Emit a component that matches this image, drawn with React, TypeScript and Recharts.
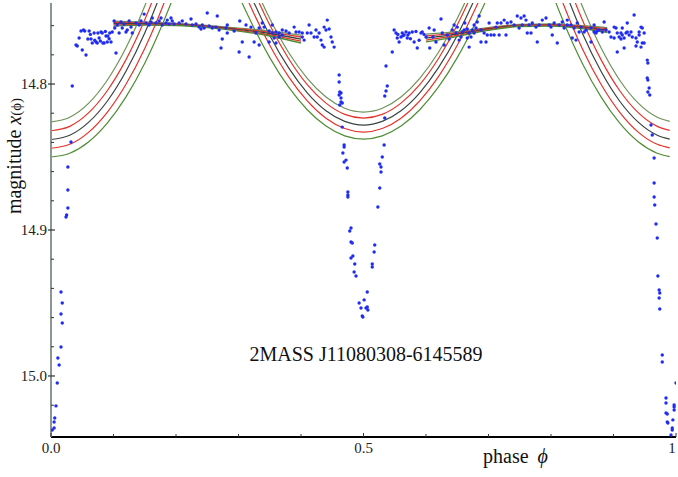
import React from "react";
import { ComposedChart, Line, Scatter, XAxis, YAxis } from "recharts";

// model curves (eclipse branches)
const curvePhase = [0, 0.03, 0.06, 0.09, 0.12, 0.15, 0.18, 0.21, 0.25, 0.29, 0.32, 0.35, 0.38, 0.41, 0.44, 0.47, 0.5, 0.53, 0.56, 0.59, 0.62, 0.65, 0.68, 0.71, 0.75, 0.79, 0.82, 0.85, 0.88, 0.91, 0.94, 0.97, 0.99];
const curveGreenTop = [14.826, 14.8228, 14.8133, 14.7974, 14.7752, 14.7466, 14.7116, 14.6703, 14.6, 14.6935, 14.7269, 14.7551, 14.7782, 14.7961, 14.8089, 14.8166, 14.8192, 14.8166, 14.8089, 14.7961, 14.7782, 14.7551, 14.7269, 14.6935, 14.6, 14.6703, 14.7116, 14.7466, 14.7752, 14.7974, 14.8133, 14.8228, 14.8256];
const curveRedTop = [14.832, 14.829, 14.8198, 14.8046, 14.7833, 14.756, 14.7225, 14.6829, 14.62, 14.6985, 14.7316, 14.7596, 14.7825, 14.8004, 14.8131, 14.8208, 14.8233, 14.8208, 14.8131, 14.8004, 14.7825, 14.7596, 14.7316, 14.6985, 14.62, 14.6829, 14.7225, 14.756, 14.7833, 14.8046, 14.8198, 14.829, 14.8317];
const curveDark = [14.838, 14.8351, 14.8263, 14.8118, 14.7913, 14.7651, 14.733, 14.6951, 14.635, 14.7077, 14.7396, 14.7667, 14.7888, 14.806, 14.8183, 14.8256, 14.8281, 14.8256, 14.8183, 14.806, 14.7888, 14.7667, 14.7396, 14.7077, 14.635, 14.6951, 14.733, 14.7651, 14.7913, 14.8118, 14.8263, 14.8351, 14.8377];
const curveRedLow = [14.844, 14.8413, 14.8331, 14.8194, 14.8002, 14.7756, 14.7455, 14.7099, 14.65, 14.7165, 14.7474, 14.7735, 14.7949, 14.8115, 14.8234, 14.8305, 14.8329, 14.8305, 14.8234, 14.8115, 14.7949, 14.7735, 14.7474, 14.7165, 14.65, 14.7099, 14.7455, 14.7756, 14.8002, 14.8194, 14.8331, 14.8413, 14.8437];
const curveGreenLow = [14.85, 14.8474, 14.8397, 14.8268, 14.8088, 14.7857, 14.7573, 14.7239, 14.67, 14.7283, 14.7573, 14.7819, 14.802, 14.8176, 14.8288, 14.8355, 14.8377, 14.8355, 14.8288, 14.8176, 14.802, 14.7819, 14.7573, 14.7283, 14.67, 14.7239, 14.7573, 14.7857, 14.8088, 14.8268, 14.8397, 14.8474, 14.8497];

// out-of-eclipse model band
const bandAPhase = [0.1, 0.15, 0.2, 0.25, 0.3, 0.35, 0.4];
const bandAGreenTop = [14.7569, 14.7576, 14.7585, 14.7599, 14.7617, 14.7637, 14.7665];
const bandARedTop = [14.7577, 14.7581, 14.7589, 14.7603, 14.7622, 14.7645, 14.7678];
const bandADark = [14.7586, 14.7586, 14.7592, 14.7606, 14.7627, 14.7654, 14.7692];
const bandARedLow = [14.7595, 14.7591, 14.7595, 14.7609, 14.7632, 14.7663, 14.7706];
const bandAGreenLow = [14.7603, 14.7596, 14.7599, 14.7613, 14.7637, 14.7671, 14.7719];

const bandBPhase = [0.6, 0.65, 0.7, 0.75, 0.8, 0.85, 0.89];
const bandBGreenTop = [14.7658, 14.7641, 14.7613, 14.7592, 14.7589, 14.76, 14.7613];
const bandBRedTop = [14.7671, 14.7649, 14.7618, 14.7596, 14.7593, 14.7605, 14.7621];
const bandBDark = [14.7685, 14.7658, 14.7623, 14.7599, 14.7596, 14.761, 14.763];
const bandBRedLow = [14.7699, 14.7667, 14.7628, 14.7602, 14.7599, 14.7615, 14.7639];
const bandBGreenLow = [14.7712, 14.7675, 14.7633, 14.7606, 14.7603, 14.762, 14.7647];

// observations [phase, magnitude]
const primaryEgress = [
  [0.002, 15.037], [0.005, 15.0356], [0.005, 15.0315], [0.006, 15.0288], [0.008, 15.0205], [0.01, 15.0048],
  [0.011, 14.9877], [0.013, 14.9925], [0.016, 14.9801], [0.018, 14.9637], [0.016, 14.9575], [0.018, 14.95],
  [0.016, 14.9425], [0.024, 14.8911], [0.025, 14.8897], [0.027, 14.8849], [0.027, 14.8726], [0.027, 14.8568],
  [0.032, 14.8397], [0.034, 14.8014],
];
const lowClusterA = [
  [0.04, 14.7733], [0.042, 14.774], [0.045, 14.7685], [0.048, 14.7637], [0.05, 14.7767], [0.052, 14.763],
  [0.054, 14.7637], [0.056, 14.7801], [0.059, 14.7692], [0.061, 14.7637], [0.063, 14.766], [0.064, 14.7692],
  [0.066, 14.7719], [0.069, 14.7651], [0.07, 14.77], [0.072, 14.7712], [0.074, 14.7719], [0.075, 14.7651],
  [0.077, 14.7685], [0.079, 14.7705], [0.08, 14.7644], [0.082, 14.7651], [0.083, 14.7719], [0.085, 14.7719],
  [0.087, 14.764], [0.088, 14.7671], [0.09, 14.7712], [0.091, 14.7671], [0.093, 14.769], [0.094, 14.7651],
  [0.096, 14.7712], [0.098, 14.7644],
];
const plateauA = [
  [0.101, 14.7568], [0.102, 14.7616], [0.104, 14.7788], [0.106, 14.7596], [0.109, 14.7651], [0.112, 14.7575],
  [0.114, 14.7616], [0.117, 14.7589], [0.12, 14.7644], [0.122, 14.763], [0.125, 14.7568], [0.128, 14.761],
  [0.13, 14.7651], [0.136, 14.7582], [0.141, 14.7596], [0.144, 14.7568], [0.149, 14.7521], [0.152, 14.7582],
  [0.157, 14.7596], [0.16, 14.7575], [0.162, 14.7548], [0.168, 14.7582], [0.173, 14.7568], [0.176, 14.7548],
  [0.178, 14.7596], [0.184, 14.7582], [0.186, 14.7562], [0.189, 14.7589], [0.192, 14.7548], [0.194, 14.7568],
  [0.197, 14.7589], [0.205, 14.7582], [0.21, 14.7568], [0.216, 14.7589], [0.224, 14.7555], [0.226, 14.7596],
  [0.232, 14.7589], [0.237, 14.761], [0.24, 14.7623], [0.242, 14.7596], [0.245, 14.7616], [0.25, 14.7514],
  [0.253, 14.7603], [0.258, 14.7616], [0.264, 14.761], [0.266, 14.7534], [0.269, 14.763], [0.272, 14.7753],
  [0.274, 14.7692], [0.28, 14.7616], [0.282, 14.7596], [0.282, 14.7651], [0.293, 14.7637], [0.301, 14.7781],
  [0.302, 14.7568], [0.306, 14.7712], [0.312, 14.7596], [0.317, 14.7815], [0.32, 14.761], [0.325, 14.7712],
  [0.328, 14.7651], [0.333, 14.7616], [0.333, 14.7733], [0.338, 14.7582], [0.341, 14.761], [0.349, 14.7637],
  [0.349, 14.7712], [0.354, 14.7596], [0.354, 14.7651], [0.357, 14.7685], [0.36, 14.7719], [0.36, 14.7644],
  [0.365, 14.7651], [0.365, 14.7678], [0.37, 14.763], [0.37, 14.7664], [0.376, 14.7637], [0.381, 14.7651],
  [0.389, 14.761], [0.392, 14.7644], [0.397, 14.7644], [0.402, 14.7651], [0.402, 14.7678], [0.405, 14.7699],
  [0.41, 14.7651], [0.413, 14.7596], [0.416, 14.7651], [0.421, 14.7678], [0.424, 14.763], [0.426, 14.7678],
  [0.429, 14.7651], [0.432, 14.7699], [0.434, 14.7733], [0.437, 14.761], [0.437, 14.7747], [0.44, 14.763],
  [0.442, 14.7562], [0.445, 14.7623], [0.448, 14.7678], [0.45, 14.7712], [0.453, 14.7747],
];
const secondaryIngress = [
  [0.461, 14.7938], [0.461, 14.7986], [0.462, 14.8055], [0.464, 14.8062], [0.461, 14.8075], [0.464, 14.8096],
  [0.464, 14.8123], [0.466, 14.813], [0.462, 14.8144], [0.466, 14.8295], [0.469, 14.8418], [0.469, 14.8432],
  [0.467, 14.8473], [0.472, 14.8521], [0.469, 14.8534], [0.474, 14.8575], [0.475, 14.874], [0.475, 14.876],
  [0.475, 14.8774], [0.48, 14.8986], [0.478, 14.9007], [0.48, 14.9082], [0.482, 14.9089], [0.483, 14.9178],
  [0.48, 14.9192], [0.486, 14.9233], [0.485, 14.9288], [0.488, 14.9315], [0.506, 14.9425], [0.501, 14.9479],
  [0.493, 14.95], [0.496, 14.9534], [0.504, 14.9534], [0.506, 14.9527], [0.507, 14.9548], [0.498, 14.9589],
  [0.499, 14.9596],
];
const secondaryEgress = [
  [0.536, 14.7877], [0.538, 14.8014], [0.536, 14.8048], [0.534, 14.8082], [0.534, 14.8233], [0.533, 14.8418],
  [0.53, 14.85], [0.526, 14.8548], [0.528, 14.8568], [0.528, 14.8603], [0.526, 14.8712], [0.523, 14.8842],
  [0.518, 14.9103], [0.517, 14.9151], [0.514, 14.9233], [0.514, 14.9253],
];
const lowClusterB = [
  [0.546, 14.7781], [0.549, 14.763], [0.552, 14.7651], [0.554, 14.7685], [0.555, 14.766], [0.557, 14.7712],
  [0.56, 14.7678], [0.562, 14.7651], [0.563, 14.767], [0.565, 14.7664], [0.568, 14.7644], [0.57, 14.7685],
  [0.571, 14.7665], [0.573, 14.7651], [0.575, 14.769], [0.578, 14.7644], [0.581, 14.7712], [0.584, 14.764],
  [0.586, 14.7753], [0.589, 14.77], [0.592, 14.7651], [0.594, 14.7644], [0.597, 14.766], [0.6, 14.7678],
  [0.605, 14.7616], [0.606, 14.7753], [0.611, 14.7678], [0.613, 14.763], [0.616, 14.7712], [0.624, 14.7555],
  [0.626, 14.7651], [0.629, 14.7733], [0.634, 14.7664], [0.637, 14.7692],
];
const plateauB = [
  [0.642, 14.763], [0.645, 14.7596], [0.648, 14.7651], [0.65, 14.761], [0.653, 14.7699], [0.656, 14.7678],
  [0.658, 14.7644], [0.661, 14.763], [0.662, 14.7582], [0.666, 14.7623], [0.666, 14.7685], [0.669, 14.7651],
  [0.669, 14.7747], [0.672, 14.7678], [0.674, 14.763], [0.677, 14.7596], [0.677, 14.7651], [0.68, 14.7616],
  [0.682, 14.7575], [0.685, 14.7534], [0.688, 14.763], [0.688, 14.7712], [0.693, 14.7651], [0.696, 14.7712],
  [0.698, 14.7664], [0.701, 14.7582], [0.704, 14.7664], [0.709, 14.7664], [0.712, 14.761], [0.714, 14.7582],
  [0.717, 14.7664], [0.72, 14.7582], [0.725, 14.7562], [0.728, 14.7664], [0.73, 14.7582], [0.736, 14.7575],
  [0.741, 14.7596], [0.746, 14.7534], [0.749, 14.7616], [0.752, 14.7548], [0.754, 14.7596], [0.757, 14.7534],
  [0.76, 14.7562], [0.762, 14.7651], [0.765, 14.7596], [0.768, 14.7651], [0.77, 14.7582], [0.776, 14.761],
  [0.778, 14.7712], [0.781, 14.7596], [0.786, 14.7562], [0.792, 14.7548], [0.797, 14.7596], [0.8, 14.761],
  [0.802, 14.7664], [0.805, 14.7582], [0.81, 14.7719], [0.813, 14.7596], [0.818, 14.7575], [0.821, 14.7616],
  [0.826, 14.7596], [0.826, 14.7562], [0.832, 14.7596], [0.834, 14.7685], [0.837, 14.7616], [0.84, 14.7699],
  [0.842, 14.7582], [0.845, 14.7644], [0.848, 14.761], [0.853, 14.7644], [0.856, 14.763], [0.864, 14.7712],
  [0.864, 14.7616], [0.869, 14.7596], [0.869, 14.7644], [0.872, 14.7651], [0.874, 14.7637], [0.877, 14.763],
  [0.882, 14.7644], [0.885, 14.7575], [0.888, 14.763], [0.893, 14.7644], [0.896, 14.7678], [0.901, 14.7685],
  [0.901, 14.761], [0.904, 14.7616], [0.906, 14.7651], [0.906, 14.7781], [0.909, 14.7678], [0.912, 14.7651],
  [0.912, 14.7692], [0.914, 14.7616], [0.914, 14.7664], [0.917, 14.7685], [0.917, 14.7753], [0.92, 14.7651],
  [0.922, 14.7582], [0.922, 14.7644], [0.925, 14.7664], [0.928, 14.7644], [0.93, 14.7678], [0.933, 14.7527],
  [0.936, 14.7685], [0.936, 14.774], [0.938, 14.7712], [0.941, 14.7664], [0.941, 14.7644], [0.944, 14.7747],
  [0.944, 14.761], [0.946, 14.7616], [0.946, 14.7719], [0.949, 14.7719], [0.949, 14.7651],
];
const primaryIngress = [
  [0.954, 14.7836], [0.955, 14.7856], [0.954, 14.7959], [0.955, 14.7973], [0.957, 14.8027], [0.955, 14.8055],
  [0.958, 14.8075], [0.96, 14.8281], [0.962, 14.8349], [0.965, 14.8507], [0.965, 14.8678], [0.965, 14.8774],
  [0.966, 14.8829], [0.968, 14.8959], [0.97, 14.9055], [0.971, 14.9315], [0.973, 14.9411], [0.974, 14.9432],
  [0.973, 14.9466], [0.974, 14.9541], [0.978, 14.9856], [0.978, 14.9904], [1.0, 15.0048], [0.984, 15.0151],
  [0.984, 15.0185], [0.997, 15.0199], [0.997, 15.0212], [0.984, 15.0253], [0.986, 15.026], [0.986, 15.0315],
  [0.987, 15.0322], [0.995, 15.0301], [0.997, 15.0233], [0.994, 15.0356], [0.994, 15.037], [0.992, 15.0404],
];

const xTicks = [0, 0.1, 0.2, 0.3, 0.4, 0.5, 0.6, 0.7, 0.8, 0.9, 1];
const xMajor = [0, 0.5, 1];
const xMajorLabels = ["0.0", "0.5", "1"];
const yTicks = [14.76, 14.78, 14.8, 14.82, 14.84, 14.86, 14.88, 14.9, 14.92, 14.94, 14.96, 14.98, 15.0, 15.02];
const yMajor = [14.8, 14.9, 15.0];
const yMajorLabels = ["14.8", "14.9", "15.0"];

const W = 678;
const H = 477;
const SERIF = "'Liberation Serif', 'Times New Roman', serif";
const GREEN_TOP = "#6e9358";
const RED = "#e3342b";
const DARK = "#38453f";
const GREEN_LOW = "#4f8d33";
const BLUE = "#1f2cf2";

const rows = (ph: number[], vals: number[]) => ph.map((p, i) => ({ p, m: vals[i] }));
const pts = (arr: number[][]) => arr.map(([p, m]) => ({ p, m }));
const allPoints = [
  ...pts(primaryEgress), ...pts(lowClusterA), ...pts(plateauA), ...pts(secondaryIngress),
  ...pts(secondaryEgress), ...pts(lowClusterB), ...pts(plateauB), ...pts(primaryIngress),
];

const curves = [
  { key: "cg1", vals: curveGreenTop, color: GREEN_TOP },
  { key: "cr1", vals: curveRedTop, color: RED },
  { key: "ck", vals: curveDark, color: DARK },
  { key: "cr2", vals: curveRedLow, color: RED },
  { key: "cg2", vals: curveGreenLow, color: GREEN_LOW },
];
const bands = [
  { key: "ag1", ph: bandAPhase, vals: bandAGreenTop, color: GREEN_TOP },
  { key: "ar1", ph: bandAPhase, vals: bandARedTop, color: RED },
  { key: "ak", ph: bandAPhase, vals: bandADark, color: DARK },
  { key: "ar2", ph: bandAPhase, vals: bandARedLow, color: RED },
  { key: "ag2", ph: bandAPhase, vals: bandAGreenLow, color: GREEN_LOW },
  { key: "bg1", ph: bandBPhase, vals: bandBGreenTop, color: GREEN_TOP },
  { key: "br1", ph: bandBPhase, vals: bandBRedTop, color: RED },
  { key: "bk", ph: bandBPhase, vals: bandBDark, color: DARK },
  { key: "br2", ph: bandBPhase, vals: bandBRedLow, color: RED },
  { key: "bg2", ph: bandBPhase, vals: bandBGreenLow, color: GREEN_LOW },
];

const isMajor = (list: number[], v: number) => list.findIndex((t) => Math.abs(t - v) < 1e-6);

const BottomTick = (props: any) => {
  const { x, y, payload } = props;
  const i = isMajor(xMajor, payload.value);
  // the last label sits at the right edge of the page, nudge it inwards
  const lx = i === xMajor.length - 1 ? x - 4 : x;
  return (
    <g>
      <line x1={x} y1={y} x2={x} y2={y - (i >= 0 ? 4 : 3)} stroke="#333" strokeWidth={1} />
      {i >= 0 && (
        <text x={lx} y={y + 16} textAnchor="middle" fontSize={15} fontFamily={SERIF} fill="#222">
          {xMajorLabels[i]}
        </text>
      )}
    </g>
  );
};

const TopTick = (props: any) => {
  const { x, y, payload } = props;
  const i = isMajor(xMajor, payload.value);
  return <line x1={x} y1={y} x2={x} y2={y + (i >= 0 ? 4 : 3)} stroke="#555" strokeWidth={1} />;
};

const LeftTick = (props: any) => {
  const { x, y, payload } = props;
  const i = isMajor(yMajor, payload.value);
  return (
    <g>
      {i >= 0 ? (
        <line x1={x - 3} y1={y} x2={x + 4} y2={y} stroke="#333" strokeWidth={1.2} />
      ) : (
        <line x1={x} y1={y} x2={x + 3} y2={y} stroke="#333" strokeWidth={1} />
      )}
      {i >= 0 && (
        <text x={x - 4} y={y + 5} textAnchor="end" fontSize={15} fontFamily={SERIF} fill="#222">
          {yMajorLabels[i]}
        </text>
      )}
    </g>
  );
};

const RightTick = (props: any) => {
  const { x, y, payload } = props;
  const i = isMajor(yMajor, payload.value);
  return <line x1={x - (i >= 0 ? 3 : 1)} y1={y} x2={x + 2} y2={y} stroke="#444" strokeWidth={1.2} />;
};

const Dot = (props: any) => <circle cx={props.cx} cy={props.cy} r={1.7} fill={BLUE} />;

export default function App() {
  return (
    <div style={{ position: "absolute", left: 0, top: 0, width: W, height: H, background: "#fff" }}>
      <ComposedChart width={W} height={H} margin={{ top: 3, right: 2, bottom: 0, left: 0 }}>
        <XAxis
          dataKey="p"
          type="number"
          domain={[0, 1]}
          ticks={xTicks}
          interval={0}
          allowDataOverflow
          height={40}
          tickSize={0}
          tickMargin={0}
          tickLine={false}
          tick={BottomTick}
          axisLine={{ stroke: "#000", strokeWidth: 2 }}
        />
        <XAxis
          xAxisId="top"
          orientation="top"
          dataKey="p"
          type="number"
          domain={[0, 1]}
          ticks={xTicks}
          interval={0}
          height={0}
          tickSize={0}
          tickMargin={0}
          tickLine={false}
          tick={TopTick}
          axisLine={{ stroke: "#8e9893", strokeWidth: 1.5 }}
        />
        <YAxis
          type="number"
          domain={[14.7445, 15.0418]}
          reversed
          allowDataOverflow
          ticks={yTicks}
          interval={0}
          width={51}
          tickSize={0}
          tickMargin={0}
          tickLine={false}
          tick={LeftTick}
          axisLine={{ stroke: "#8a9690", strokeWidth: 2 }}
        />
        <YAxis
          yAxisId="right"
          orientation="right"
          type="number"
          domain={[14.7445, 15.0418]}
          reversed
          ticks={yTicks}
          interval={0}
          width={0}
          tickSize={0}
          tickMargin={0}
          tickLine={false}
          tick={RightTick}
          axisLine={false}
        />
        {curves.map((c) => (
          <Line
            key={c.key}
            data={rows(curvePhase, c.vals)}
            dataKey="m"
            type="monotone"
            stroke={c.color}
            strokeWidth={1.2}
            dot={false}
            isAnimationActive={false}
          />
        ))}
        {bands.map((b) => (
          <Line
            key={b.key}
            data={rows(b.ph, b.vals)}
            dataKey="m"
            type="monotone"
            stroke={b.color}
            strokeWidth={1.3}
            dot={false}
            isAnimationActive={false}
          />
        ))}
        <Scatter data={allPoints} dataKey="m" shape={Dot} isAnimationActive={false} />
      </ComposedChart>
      <svg width={W} height={H} style={{ position: "absolute", left: 0, top: 0, pointerEvents: "none" }}>
        <text x={366} y={361} textAnchor="middle" fontSize={20} fontFamily={SERIF} fill="#111">
          2MASS J11080308-6145589
        </text>
        <text x={483} y={463} fontSize={20} fontFamily={SERIF} fill="#111">
          phase
          <tspan dx={9} fontStyle="italic">ϕ</tspan>
        </text>
        <text transform="translate(21,156) rotate(-90)" textAnchor="middle" fontSize={20} fontFamily={SERIF} fill="#111">
          magnitude <tspan fontStyle="italic">x</tspan>
          <tspan fontSize={15}>(ϕ)</tspan>
        </text>
      </svg>
    </div>
  );
}
